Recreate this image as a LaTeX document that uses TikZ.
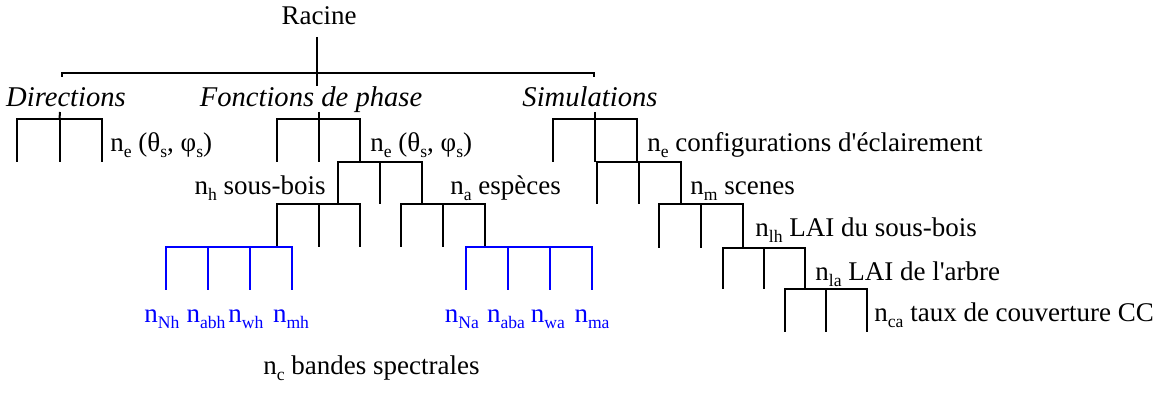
\documentclass[tikz,border=0pt]{standalone}
\usepackage{fontspec}
\setmainfont{Liberation Serif}
\usepackage{xcolor}
\usepackage{tikz}

% indice abaisse
\newcommand{\ix}[1]{\raisebox{-0.22em}{\fontsize{8.8}{9}\selectfont #1}}
% peigne : [style]{nom}{x gauche}{pas}{nb de branches}{y haut}{y bas}
\newcommand{\comb}[7][branche]{%
  \foreach \k in {1,...,#5} {
    \coordinate (#2-\k) at ({#3+(\k-1)*#4},#6);
    \coordinate (#2-\k-b) at ({#3+(\k-1)*#4},#7);
  }
  \draw[#1] (#2-1-b) -- (#2-1) -- (#2-#5) -- (#2-#5-b);
  \pgfmathtruncatemacro{\combin}{#5-1}
  \foreach \k in {2,...,\combin} {\draw[#1] (#2-\k) -- (#2-\k-b);}
}

\begin{document}
\begin{tikzpicture}[x=0.5pt, y=-0.5pt,
    every node/.style={inner sep=0pt, font=\fontsize{13.5}{16}\selectfont},
    groupe/.style={font=\fontsize{14.3}{17}\selectfont\itshape},
    branche/.style={line width=1pt, black},
    bande/.style={line width=1.3pt, blue},
    lbl/.style={anchor=base west},
    lblb/.style={anchor=base, text=blue}]
    \useasboundingbox (0,0) rectangle (1171,394);

    % Racine
    \node[anchor=base] (racine) at (319,25) {Racine};
    \coordinate (root) at (317,37);
    \coordinate (root-b) at (317,86);
    \coordinate (bar-l) at (62,73);
    \coordinate (bar-l-b) at (62,77);
    \coordinate (bar-r) at (594,73);
    \coordinate (bar-r-b) at (594,77);
    \draw[branche] (root) -- (root-b);
    \draw[branche] (bar-l-b) -- (bar-l) -- (bar-r) -- (bar-r-b);

    % Groupes
    \node[groupe, anchor=base] (dir) at (66,107) {Directions};
    \node[groupe, anchor=base] (fonc) at (311,107) {Fonctions de phase};
    \node[groupe, anchor=base] (simu) at (590,107) {Simulations};

    % Directions
    \comb{d}{17}{42.5}{3}{119}{162}
    \coordinate (d-stub) at (60,112);
    \draw[branche] (d-stub) -- (d-2);
    \node[lbl] (d-lbl) at (110,152) {n\ix{e} (θ\ix{s}, φ\ix{s})};

    % Fonctions de phase
    \comb{f}{277}{41.5}{3}{119}{162}
    \coordinate (f-stub) at (318.5,112);
    \draw[branche] (f-stub) -- (f-2);
    \comb{e}{338}{42}{3}{162}{204}
    \node[lbl] (e-lbl) at (370,152) {n\ix{e} (θ\ix{s}, φ\ix{s})};
    \comb{h}{277}{41.5}{3}{204}{247}
    \node[anchor=base east] (h-lbl) at (326,195) {n\ix{h} sous-bois};
    \comb{a}{401}{42}{3}{204}{247}
    \node[lbl] (a-lbl) at (450,195) {n\ix{a} espèces};

    % Bandes spectrales
    \comb[bande]{bh}{166}{42}{4}{247}{290}
    \comb[bande]{ba}{466}{42}{4}{247}{290}
    \node[lblb] (nh1) at (162,323) {n\ix{Nh}};
    \node[lblb] (nh2) at (206,323) {n\ix{abh}};
    \node[lblb] (nh3) at (246,323) {n\ix{wh}};
    \node[lblb] (nh4) at (291,323) {n\ix{mh}};
    \node[lblb] (na1) at (462,323) {n\ix{Na}};
    \node[lblb] (na2) at (506,323) {n\ix{aba}};
    \node[lblb] (na3) at (548,323) {n\ix{wa}};
    \node[lblb] (na4) at (592,323) {n\ix{ma}};
    \node[lbl] (nc) at (263,375) {n\ix{c} bandes spectrales};

    % Simulations
    \comb{s}{553}{42}{3}{119}{162}
    \coordinate (s-stub) at (595,112);
    \draw[branche] (s-stub) -- (s-2);
    \node[lbl] (s-lbl) at (647,152) {n\ix{e} configurations d\textquotesingle éclairement};
    \comb{m}{597}{42}{3}{162}{204}
    \node[lbl] (m-lbl) at (690,195) {n\ix{m} scenes};
    \comb{lh}{659}{42}{3}{204}{248}
    \node[lbl] (lh-lbl) at (755,237) {n\ix{lh} LAI du sous-bois};
    \comb{la}{723}{41}{3}{248}{289}
    \node[lbl] (la-lbl) at (815,281) {n\ix{la} LAI de l\textquotesingle arbre};
    \comb{ca}{785}{41}{3}{289}{332}
    \node[lbl] (ca-lbl) at (874,322) {n\ix{ca} taux de couverture CC};
\end{tikzpicture}
\end{document}
